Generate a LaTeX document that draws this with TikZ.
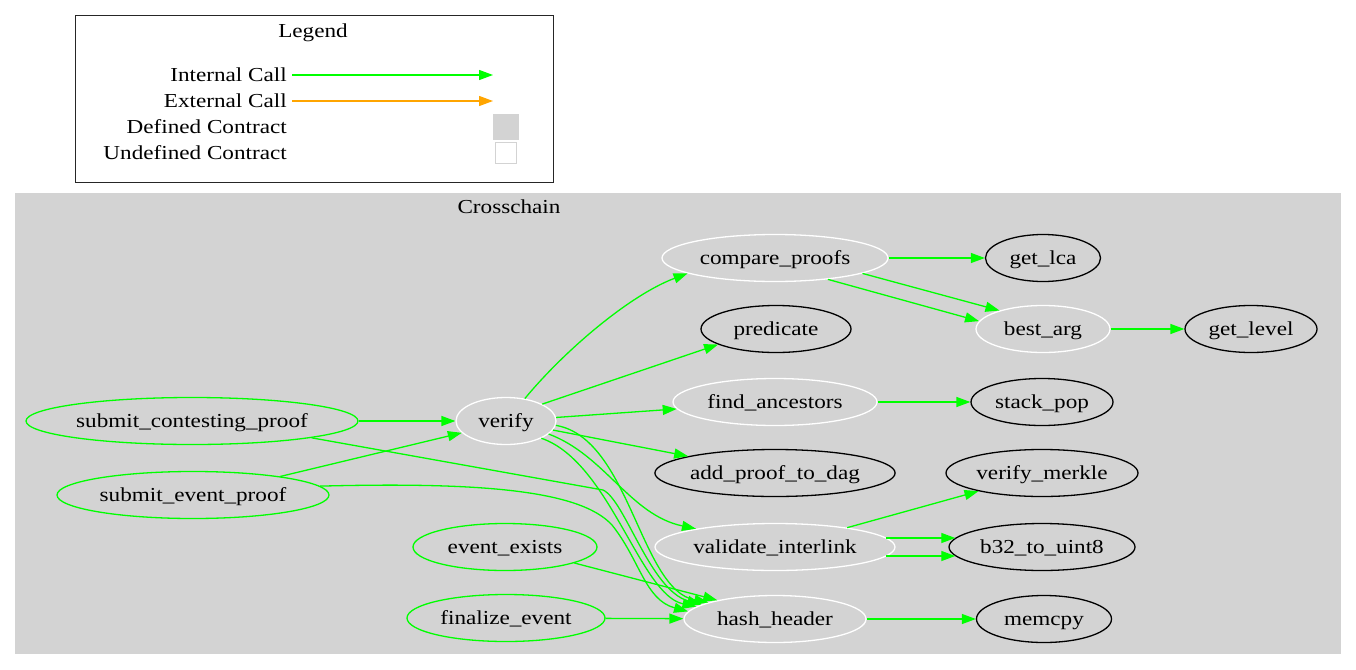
\documentclass[tikz,border=0pt]{standalone}
\usepackage{fontspec}
\setmainfont[FakeStretch=1.17]{Liberation Serif}
\usetikzlibrary{arrows.meta,shapes.geometric}
\definecolor{gvgreen}{HTML}{00FF00}
\definecolor{gvorange}{HTML}{FFA500}
\definecolor{gvgray}{HTML}{D3D3D3}
\begin{document}
\begin{tikzpicture}[x=1pt,y=-1pt,
  every node/.style={font=\fontsize{19.8}{22}\selectfont, text height=16pt, text depth=2.6pt},
  fn/.style={ellipse, inner sep=0pt, line width=1.3pt, text=black, minimum height=47pt},
  defn/.style={fn, draw=white, fill=gvgray},
  entry/.style={fn, draw=gvgreen, fill=gvgray},
  ext/.style={fn, draw=black, fill=gvgray},
  lbl/.style={inner sep=0pt, anchor=east},
  call/.style={draw=gvgreen, line width=1.3pt, -{Triangle[length=14pt,width=10pt]}},
  xcall/.style={draw=gvorange, line width=1.3pt, -{Triangle[length=14pt,width=10pt]}}
]
\fill[white] (0,0) rectangle (1356,669);
\useasboundingbox (0,0) rectangle (1356,669);

% Legend
\draw[black!85, line width=1pt] (75,16) rectangle (553,182);
\node (legendtitle) at (313,31) {Legend};
\node[lbl] (lic) at (287,75) {Internal Call};
\node[lbl] (lec) at (287,101) {External Call};
\node[lbl] (ldc) at (287,127) {Defined Contract};
\node[lbl] (luc) at (287,153) {Undefined Contract};
\coordinate (licend) at (493,75);
\coordinate (lecend) at (493,101);
\draw[call] ([xshift=5pt]lic.east) -- (licend);
\draw[xcall] ([xshift=5pt]lec.east) -- (lecend);
\node[draw=gvgray, fill=gvgray, minimum size=25pt, inner sep=0pt, text height=, text depth=] (defsq) at (506,127) {};
\node[draw=gvgray, fill=white, line width=1pt, minimum size=21pt, inner sep=0pt, text height=, text depth=] (undefsq) at (506,153) {};

% Cluster
\fill[gvgray] (15,193) rectangle (1341,654);
\node (clusterlabel) at (509,207) {Crosschain};

% Nodes
\node[defn, minimum width=226pt] (compare_proofs) at (775,258) {compare\_proofs};
\node[ext, minimum width=115pt] (get_lca) at (1043,258) {get\_lca};
\node[ext, minimum width=150pt] (predicate) at (776,329) {predicate};
\node[defn, minimum width=134pt] (best_arg) at (1043,329) {best\_arg};
\node[ext, minimum width=132pt] (get_level) at (1251,329) {get\_level};
\node[defn, minimum width=204pt] (find_ancestors) at (775,402) {find\_ancestors};
\node[ext, minimum width=142pt] (stack_pop) at (1042,402) {stack\_pop};
\node[defn, minimum width=100pt] (verify) at (506,421) {verify};
\node[entry, minimum width=332pt] (submit_contesting_proof) at (192,421) {submit\_contesting\_proof};
\node[entry, minimum width=272pt] (submit_event_proof) at (193,495) {submit\_event\_proof};
\node[ext, minimum width=240pt] (add_proof_to_dag) at (775,473) {add\_proof\_to\_dag};
\node[ext, minimum width=192pt] (verify_merkle) at (1042,473) {verify\_merkle};
\node[entry, minimum width=184pt] (event_exists) at (505,547) {event\_exists};
\node[defn, minimum width=240pt] (validate_interlink) at (775,547) {validate\_interlink};
\node[ext, minimum width=186pt] (b32_to_uint8) at (1042,547) {b32\_to\_uint8};
\node[entry, minimum width=198pt] (finalize_event) at (506,618) {finalize\_event};
\node[defn, minimum width=182pt] (hash_header) at (775,619) {hash\_header};
\node[ext, minimum width=135pt] (memcpy) at (1044,619) {memcpy};

% Waypoints
\coordinate (scbend) at (603,490);
\coordinate (sebend) at (612,525);
\coordinate (b32hi) at (0,538);
\coordinate (b32lo) at (0,556);

% Edges
\draw[call] (compare_proofs) -- (get_lca);
\draw[call] (compare_proofs.-10) -- (best_arg.157);
\draw[call] (compare_proofs.-22) -- (best_arg.173);
\draw[call] (best_arg) -- (get_level);
\draw[call] (find_ancestors) -- (stack_pop);
\draw[call] (verify.50) .. controls (565,350) and (630,295) .. (compare_proofs.-170);
\draw[call] (verify.25) -- (predicate.-165);
\draw[call] (verify) -- (find_ancestors);
\draw[call] (verify) -- (add_proof_to_dag);
\draw[call] (verify.-17) .. controls (605,455) and (630,515) .. (validate_interlink.167);
\draw[call] (verify.-5) .. controls (630,438) and (640,590) .. (hash_header.166);
\draw[call] (verify.-26) .. controls (610,462) and (640,595) .. (hash_header.171);
\draw[call] (submit_contesting_proof) -- (verify);
\draw[call] (submit_contesting_proof.-8) -- (scbend) .. controls (625,500) and (650,590) .. (hash_header.169);
\draw[call] (submit_event_proof.12) -- (verify.-165);
\draw[call] (submit_event_proof.4) .. controls (480,482) and (580,490) .. (sebend) .. controls (640,560) and (645,600) .. (hash_header.175);
\draw[call] (event_exists.-13) -- (hash_header.162);
\draw[call] (finalize_event) -- (hash_header);
\draw[call] (hash_header) -- (memcpy);
\draw[call] (validate_interlink.15) -- (verify_merkle.-164);
\draw[call] (validate_interlink.5 |- b32hi) -- (b32_to_uint8.174 |- b32hi);
\draw[call] (validate_interlink.-5 |- b32lo) -- (b32_to_uint8.-174 |- b32lo);
\end{tikzpicture}
\end{document}
